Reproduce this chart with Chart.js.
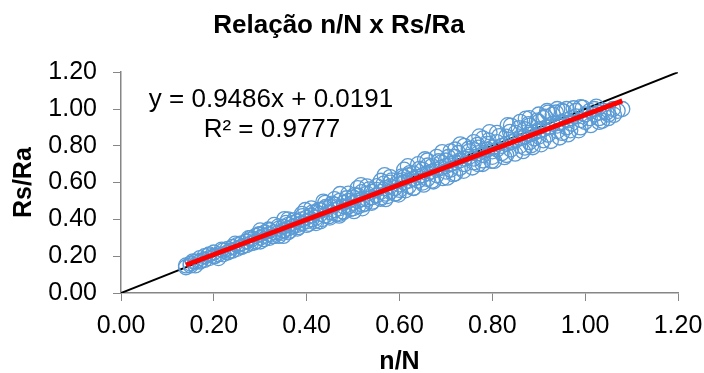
<!DOCTYPE html>
<html>
<head>
<meta charset="utf-8">
<script src="https://cdn.jsdelivr.net/npm/chart.js@4.4.1/dist/chart.umd.min.js"></script>
<style>
  html, body { margin: 0; padding: 0; background: #ffffff; }
  #chartBox { width: 704px; height: 373px; }
</style>
</head>
<body>
<div id="chartBox"><canvas id="scatterChart" width="704" height="373"></canvas></div>
<script>
// n/N values (x), grouped by range
const nN = [
  0.14,0.14,0.15,0.15,0.16,0.16,0.17,0.17,0.18,0.18,0.19,0.19,0.20,0.20,0.21,0.21,0.22,0.22,0.23,0.23,0.24,0.24,0.25,0.25,
  0.26,0.26,0.27,0.27,0.28,0.28,0.28,0.29,0.29,0.30,0.30,0.30,0.31,0.31,0.32,0.32,0.32,0.33,0.33,0.34,0.34,0.34,0.35,0.35,0.36,0.36,0.36,0.37,0.37,0.38,0.38,0.38,0.39,0.39,0.40,0.40,0.40,
  0.41,0.41,0.42,0.42,0.42,0.43,0.43,0.44,0.44,0.45,0.45,0.45,0.46,0.46,0.47,0.47,0.48,0.48,0.48,0.49,0.49,0.50,0.50,0.50,0.51,0.51,0.52,0.52,0.53,0.53,0.54,0.54,0.54,0.55,0.55,0.56,0.56,0.57,0.57,0.58,0.58,0.58,0.59,0.59,0.60,0.60,0.60,
  0.61,0.61,0.62,0.62,0.62,0.63,0.63,0.64,0.64,0.65,0.65,0.65,0.66,0.66,0.67,0.67,0.68,0.68,0.69,0.69,0.70,0.70,0.70,0.71,0.71,0.72,0.72,0.73,0.73,0.74,0.74,0.75,0.75,0.76,0.76,0.77,0.77,0.78,0.78,0.79,0.79,0.80,0.80,0.80,
  0.81,0.81,0.82,0.82,0.83,0.83,0.84,0.84,0.85,0.85,0.86,0.86,0.87,0.87,0.88,0.88,0.88,0.89,0.89,0.90,0.90,0.90,0.91,0.91,0.92,0.92,0.93,0.93,0.94,0.94,0.95,0.95,0.96,0.96,0.97,0.97,0.98,0.98,0.99,1.00,1.00,1.01,1.01,1.02,1.02,1.03,1.03,1.04,1.05,1.06,1.07,1.08,
  0.30,0.33,0.36,0.39,0.41,0.44,0.46,0.49,0.51,0.53,0.56,0.58,0.61,0.64,0.66,0.68,0.71,0.72,0.74,0.76,0.78,0.81,0.84,0.86,0.88,0.90,0.92,0.94,0.96,0.99,
  0.35,0.43,0.47,0.52,0.57,0.63,0.67,0.72,0.77,0.83,0.87,0.91,0.95,0.99,1.03,1.05,
  0.155,0.172,0.188,0.203,0.217,0.234,0.246,0.262,0.275,0.287,
  0.296,0.308,0.318,0.327,0.339,0.347,0.356,0.364,0.373,0.382,
  0.391,0.405,0.412,0.418,0.426,0.433,0.441,0.448,0.455,0.463,
  0.471,0.478,0.486,0.494,0.503,0.511,0.518,0.526,0.534,0.542,
  0.551,0.559,0.566,0.574,0.583,0.592,0.605,0.613,0.622,0.631,
  0.643,0.652,0.661,0.673,0.684,0.693,0.705,0.716,0.727,0.738,
  0.749,0.757,0.768,0.779,0.792,0.804,0.815,0.826,0.838,0.849,
  0.857,0.866,0.878,0.887,0.896,0.905,0.914,0.926,0.937,0.945,
  0.954,0.963,0.975,0.986,0.995,1.012,1.024,1.037,1.046,1.062,
  0.352,0.397,0.436,0.472,0.517,0.568,0.618,0.655,0.692,0.731,0.772,0.794,0.833,0.872,0.918,
  0.502,0.598,0.703,0.798,0.884,0.968
];
// Rs/Ra values (y), same order as nN
const rsRa = [
  0.15,0.14,0.16,0.15,0.17,0.15,0.17,0.19,0.18,0.20,0.19,0.21,0.20,0.22,0.21,0.19,0.23,0.21,0.24,0.22,0.25,0.23,0.26,0.24,
  0.27,0.25,0.28,0.26,0.29,0.27,0.30,0.28,0.31,0.30,0.32,0.28,0.31,0.33,0.32,0.30,0.34,0.33,0.31,0.35,0.33,0.31,0.36,0.34,0.37,0.35,0.33,0.38,0.36,0.39,0.37,0.35,0.40,0.38,0.41,0.39,0.37,
  0.42,0.40,0.44,0.41,0.38,0.43,0.45,0.42,0.46,0.44,0.47,0.41,0.45,0.48,0.46,0.43,0.49,0.47,0.44,0.50,0.47,0.49,0.52,0.46,0.50,0.53,0.51,0.48,0.54,0.51,0.52,0.55,0.49,0.53,0.56,0.55,0.52,0.57,0.54,0.58,0.55,0.60,0.57,0.54,0.59,0.61,0.56,
  0.60,0.63,0.61,0.58,0.64,0.62,0.65,0.61,0.63,0.64,0.67,0.60,0.65,0.62,0.66,0.69,0.67,0.64,0.68,0.71,0.69,0.66,0.72,0.70,0.67,0.71,0.74,0.72,0.68,0.73,0.70,0.74,0.77,0.73,0.71,0.76,0.79,0.75,0.72,0.78,0.81,0.77,0.74,0.79,
  0.78,0.82,0.80,0.76,0.81,0.85,0.82,0.78,0.83,0.87,0.84,0.80,0.85,0.89,0.86,0.82,0.91,0.87,0.84,0.88,0.93,0.85,0.89,0.95,0.90,0.86,0.92,0.97,0.91,0.88,0.93,0.99,0.94,0.90,0.95,0.92,0.96,0.99,0.94,0.97,0.93,0.99,0.95,0.97,1.00,0.98,0.95,0.99,0.97,1.00,0.99,1.00,
  0.34,0.37,0.40,0.43,0.46,0.49,0.51,0.54,0.57,0.58,0.61,0.63,0.67,0.70,0.72,0.74,0.77,0.78,0.80,0.82,0.84,0.87,0.91,0.93,0.95,0.97,0.98,1.00,1.00,1.01,
  0.31,0.39,0.42,0.46,0.51,0.57,0.61,0.65,0.70,0.75,0.79,0.83,0.87,0.90,0.93,0.95,
  0.172,0.176,0.205,0.201,0.236,0.229,0.268,0.255,0.298,0.274,
  0.318,0.292,0.345,0.308,0.362,0.327,0.381,0.339,0.396,0.358,
  0.418,0.376,0.437,0.391,0.452,0.402,0.468,0.417,0.486,0.429,
  0.501,0.443,0.515,0.456,0.532,0.472,0.548,0.485,0.563,0.497,
  0.581,0.512,0.594,0.527,0.612,0.541,0.634,0.558,0.652,0.573,
  0.675,0.589,0.693,0.606,0.716,0.624,0.739,0.645,0.761,0.664,
  0.784,0.682,0.805,0.701,0.829,0.718,0.853,0.738,0.876,0.757,
  0.896,0.771,0.918,0.792,0.937,0.808,0.958,0.826,0.981,0.845,
  0.986,0.862,1.004,0.884,1.008,0.912,1.013,0.936,0.981,0.968,
  0.402,0.451,0.497,0.538,0.586,0.641,0.689,0.727,0.766,0.808,0.851,0.874,0.912,0.948,0.989,
  0.445,0.535,0.627,0.718,0.803,0.884
];

// 1:1 reference line (black) and linear trend line (red)
const refX = [0, 1.2];
const refY = [0, 1.2];
const trendX = [0.14, 1.08];
const trendY = [0.152, 1.044];

const trendLabel = ['y = 0.9486x + 0.0191', 'R\u00b2 = 0.9777'];
const tickValues = [0, 0.2, 0.4, 0.6, 0.8, 1.0, 1.2];

const fontFamily = '"Liberation Sans", Arial, sans-serif';
const axisGray = '#868686';

const toPoints = (xs, ys) => xs.map((x, i) => ({ x: x, y: ys[i] }));

// draws the trendline equation text inside the plot
const equationPlugin = {
    id: 'equationText',
    afterDatasetsDraw(chart) {
        const ctx = chart.ctx;
        ctx.save();
        ctx.font = '26px ' + fontFamily;
        ctx.fillStyle = '#000000';
        ctx.textAlign = 'center';
        ctx.textBaseline = 'middle';
        ctx.fillText(trendLabel[0], 271, 100);
        ctx.fillText(trendLabel[1], 272, 130);
        ctx.restore();
    }
};

const ctx = document.getElementById('scatterChart').getContext('2d');

const scatterChart = new Chart(ctx, {
    type: 'scatter',
    data: {
        datasets: [
            {
                label: 'trend',
                data: toPoints(trendX, trendY),
                showLine: true,
                borderColor: '#ff0000',
                borderWidth: 5,
                pointRadius: 0,
                order: 0
            },
            {
                label: 'Rs/Ra',
                data: toPoints(nN, rsRa),
                pointStyle: 'circle',
                pointRadius: 7.5,
                borderWidth: 1.3,
                borderColor: '#5b9bd5',
                backgroundColor: 'rgba(0,0,0,0)',
                order: 1
            },
            {
                label: '1:1',
                data: toPoints(refX, refY),
                showLine: true,
                borderColor: '#000000',
                borderWidth: 2,
                pointRadius: 0,
                order: 2
            }
        ]
    },
    options: {
        responsive: false,
        animation: false,
        devicePixelRatio: 1,
        layout: {
            padding: { left: 0, right: 26, top: 0, bottom: 0 }
        },
        plugins: {
            legend: { display: false },
            tooltip: { enabled: false },
            title: {
                display: true,
                text: 'Rela\u00e7\u00e3o n/N x Rs/Ra',
                color: '#000000',
                font: { family: fontFamily, size: 26, weight: 'bold' },
                padding: { top: 10, bottom: 31 }
            }
        },
        scales: {
            x: {
                type: 'linear',
                min: 0,
                max: 1.2,
                afterBuildTicks: (axis) => {
                    axis.ticks = tickValues.map(v => ({ value: v }));
                },
                afterFit: (axis) => {
                    axis.height = 80;
                    axis.paddingLeft = 0;
                    axis.paddingRight = 0;
                },
                ticks: {
                    color: '#000000',
                    padding: 10,
                    maxRotation: 0,
                    font: { family: fontFamily, size: 25 },
                    callback: (v) => Number(v).toFixed(2)
                },
                grid: {
                    drawOnChartArea: false,
                    drawTicks: true,
                    tickLength: 8,
                    color: axisGray
                },
                border: { color: axisGray, width: 1.5 },
                title: {
                    display: true,
                    text: 'n/N',
                    color: '#000000',
                    font: { family: fontFamily, size: 25, weight: 'bold', lineHeight: 1 },
                    padding: { top: 0, bottom: -2 }
                }
            },
            y: {
                type: 'linear',
                min: 0,
                max: 1.2,
                afterBuildTicks: (axis) => {
                    axis.ticks = tickValues.map(v => ({ value: v }));
                },
                afterFit: (axis) => {
                    axis.width = 121;
                    axis.paddingTop = 0;
                    axis.paddingBottom = 0;
                },
                ticks: {
                    color: '#000000',
                    padding: 16,
                    font: { family: fontFamily, size: 25 },
                    callback: (v) => Number(v).toFixed(2)
                },
                grid: {
                    drawOnChartArea: false,
                    drawTicks: true,
                    tickLength: 8,
                    color: axisGray
                },
                border: { color: axisGray, width: 1.5 },
                title: {
                    display: true,
                    text: 'Rs/Ra',
                    color: '#000000',
                    font: { family: fontFamily, size: 25, weight: 'bold' },
                    padding: { top: 9, bottom: 0 }
                }
            }
        }
    },
    plugins: [equationPlugin]
});
</script>
</body>
</html>
